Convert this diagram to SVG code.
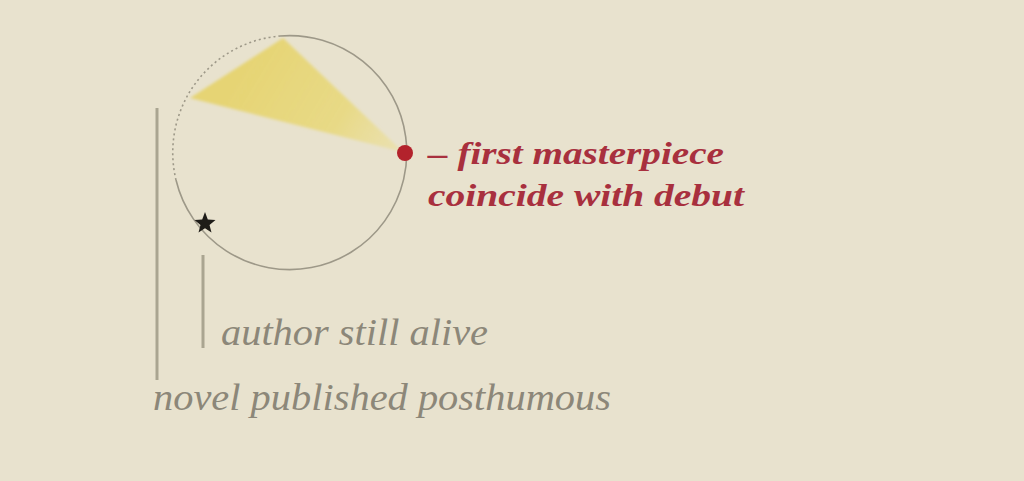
<svg xmlns="http://www.w3.org/2000/svg" width="1024" height="481" viewBox="0 0 1024 481">
  <defs>
    <linearGradient id="beam" gradientUnits="userSpaceOnUse" x1="250" y1="60" x2="403" y2="152">
      <stop offset="0" stop-color="#e6d36a" stop-opacity="0.9"/>
      <stop offset="0.6" stop-color="#e8d774" stop-opacity="0.8"/>
      <stop offset="1" stop-color="#ece09a" stop-opacity="0.55"/>
    </linearGradient>
    <filter id="soft" x="-10%" y="-10%" width="120%" height="120%">
      <feGaussianBlur stdDeviation="1.5"/>
    </filter>
  </defs>
  <style>
    .gray { font-family: "Liberation Serif", "DejaVu Serif", serif; font-style: italic; fill: #8c8779; }
    .red { font-family: "Liberation Serif", "DejaVu Serif", serif; font-style: italic; font-weight: bold; fill: #a8303e; }
    .bar { stroke: #aaa591; stroke-width: 3; fill: none; }
    .ring { stroke: #9d9888; stroke-width: 1.6; fill: none; }
  </style>
  <rect width="1024" height="481" fill="#e8e2ce"/>

  <g id="beam-node">
    <polygon points="283,38 190,98 403,152" fill="url(#beam)" filter="url(#soft)"/>
  </g>

  <g id="circle-node">
    <path class="ring" d="M 280 36 A 117 117 0 1 1 176 180"/>
    <path class="ring" d="M 176 180 A 117 117 0 0 1 280 36" stroke-dasharray="2 3" stroke="#8f8a7a"/>
  </g>

  <g id="connectors">
    <line class="bar" x1="157" y1="108" x2="157" y2="380"/>
    <line class="bar" x1="203" y1="255" x2="203" y2="348"/>
  </g>

  <g id="debut-node">
    <circle cx="405" cy="153" r="8" fill="#b3222c"/>
    <text class="red" x="428" y="164" font-size="31" textLength="296" lengthAdjust="spacingAndGlyphs">– first masterpiece</text>
    <text class="red" x="428" y="206" font-size="31" textLength="316" lengthAdjust="spacingAndGlyphs">coincide with debut</text>
  </g>

  <g id="alive-node">
    <path d="M205,212 L207.8,219.5 L215.5,220 L209.5,225 L211.5,232.5 L205,228.3 L198.5,232.5 L200.5,225 L194.5,220 L202.2,219.5 Z" fill="#1e1c18"/>
    <text class="gray" x="221" y="345" font-size="37" textLength="267" lengthAdjust="spacingAndGlyphs">author still alive</text>
  </g>

  <g id="posthumous-node">
    <text class="gray" x="153" y="410" font-size="37" textLength="458" lengthAdjust="spacingAndGlyphs">novel published posthumous</text>
  </g>
</svg>
